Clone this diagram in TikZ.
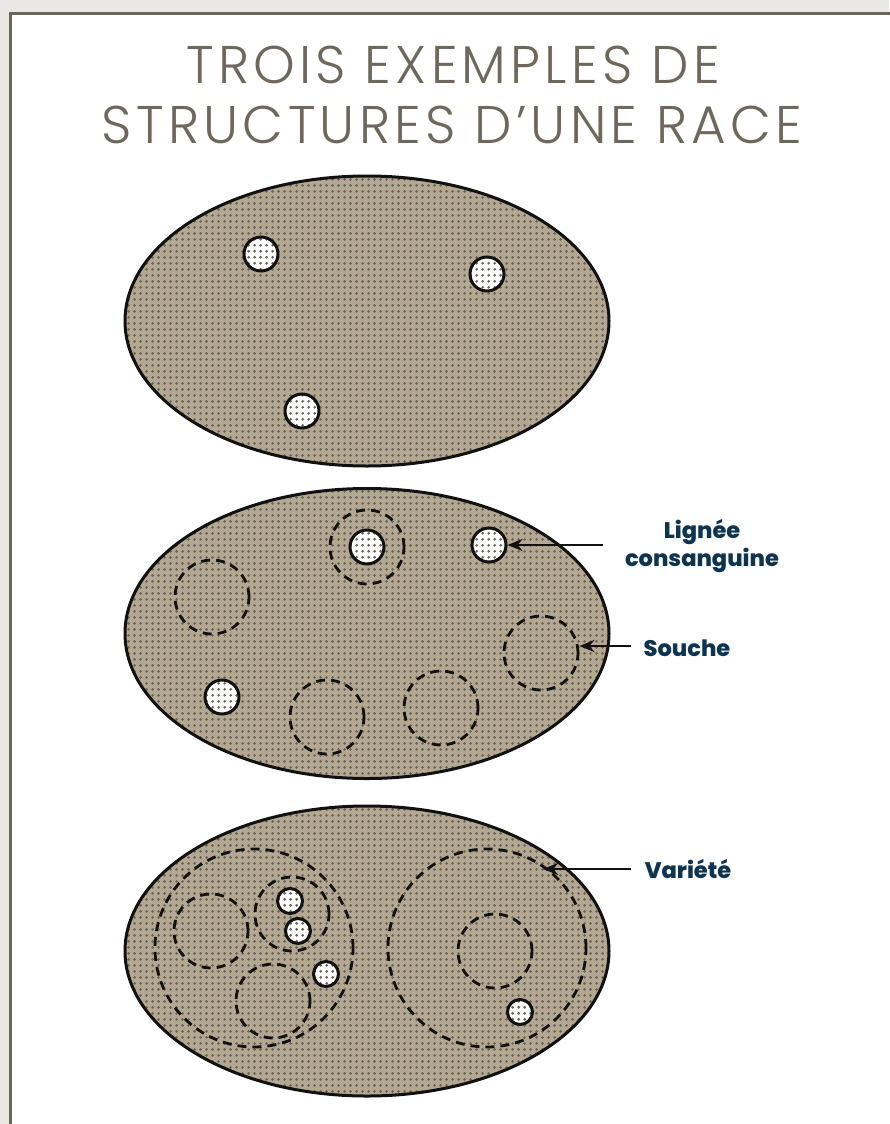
\documentclass[tikz,border=0pt]{standalone}
\usepackage{fontspec}
\usetikzlibrary{shapes.geometric,patterns,arrows.meta}
\newfontfamily\titlefont{Poppins}[UprightFont=* Light, LetterSpace=8]
\newfontfamily\labelfont{Poppins}[UprightFont=* ExtraBold]
\definecolor{bggray}{HTML}{E8E7E3}
\definecolor{framecol}{HTML}{6B6659}
\definecolor{titlecol}{HTML}{6E685C}
\definecolor{tanbg}{HTML}{B4A892}
\definecolor{dotcol}{HTML}{67625A}
\definecolor{navy}{HTML}{0D3450}
\definecolor{inkc}{HTML}{111111}
\pgfdeclarepatternformonly{mydots}{\pgfpoint{0pt}{0pt}}{\pgfpoint{6pt}{6pt}}{\pgfpoint{6pt}{6pt}}{\pgfpathcircle{\pgfpoint{3pt}{3pt}}{1.7pt}\pgfusepath{fill}}
\tikzset{
  bigell/.style={ellipse, minimum width=484pt, minimum height=290pt, inner sep=0pt,
    preaction={fill=tanbg}, preaction={pattern=mydots, pattern color=dotcol},
    draw=inkc, line width=3pt},
  wcirc/.style={circle, minimum size=34pt, inner sep=0pt,
    preaction={fill=white}, preaction={pattern=mydots, pattern color=dotcol},
    draw=inkc, line width=3pt},
  scirc/.style={wcirc, minimum size=25pt},
  dcirc/.style={circle, minimum size=74pt, inner sep=0pt, draw=inkc, line width=2.8pt,
    dash pattern=on 9pt off 6pt},
  bigdcirc/.style={dcirc, minimum size=198pt},
  arr/.style={draw=inkc, line width=2.8pt, -{Stealth[length=15pt,width=12pt]}},
  ttl/.style={text=titlecol, font=\titlefont\fontsize{53}{60}\selectfont, anchor=base, inner sep=0pt},
  lbl/.style={text=navy, font=\labelfont\fontsize{22.5}{28}\selectfont, align=center, inner sep=0pt},
}
\begin{document}
\begin{tikzpicture}[x=1pt,y=-1pt]
\useasboundingbox (0,0) rectangle (889,1124);
\fill[bggray] (0,0) rectangle (889,1124);
\draw[framecol, line width=3pt, fill=white] (10.5,13.5) rectangle (900,1135);

% title
\node[ttl] (t1) at (453,83) {TROIS EXEMPLES DE};
\node[ttl] (t2) at (452,143) {STRUCTURES D’UNE RACE};

% ellipse 1
\node[bigell] (e1) at (367,321) {};
\node[wcirc] (a1) at (261,254) {};
\node[wcirc] (a2) at (487,274) {};
\node[wcirc] (a3) at (302,411) {};

% ellipse 2
\node[bigell] (e2) at (367,633.5) {};
\node[dcirc] (b1) at (367,547) {};
\node[wcirc] (b2) at (367,547) {};
\node[wcirc] (b3) at (489,545) {};
\node[dcirc] (b4) at (212,597) {};
\node[wcirc] (b5) at (222,697) {};
\node[dcirc] (b6) at (327,717) {};
\node[dcirc] (b7) at (441,708) {};
\node[dcirc] (b8) at (541,653) {};

% ellipse 3
\node[bigell] (e3) at (367,951) {};
\node[bigdcirc] (c1) at (254,948) {};
\node[dcirc] (c2) at (211,931) {};
\node[dcirc] (c3) at (292,914) {};
\node[dcirc] (c4) at (273,1001) {};
\node[scirc] (c5) at (290,901) {};
\node[scirc] (c6) at (298,931) {};
\node[scirc] (c7) at (326,974) {};
\node[bigdcirc] (c8) at (487,948) {};
\node[dcirc] (c9) at (495,951) {};
\node[scirc] (c10) at (520,1012) {};

% labels
\node[lbl] (l1) at (702,546) {Lignée\\consanguine};
\node[lbl, anchor=base] (l2) at (687,656) {Souche};
\node[lbl, anchor=base] (l3) at (688,878) {Variété};

\coordinate (p1) at (603,545);
\coordinate (p2) at (631,646);
\coordinate (p3) at (631,869);
\draw[arr] (p1) -- (b3);
\draw[arr] (p2) -- (p2 -| b8.east);
\draw[arr] (p3) -- (p3 -| c8.56);
\end{tikzpicture}
\end{document}
